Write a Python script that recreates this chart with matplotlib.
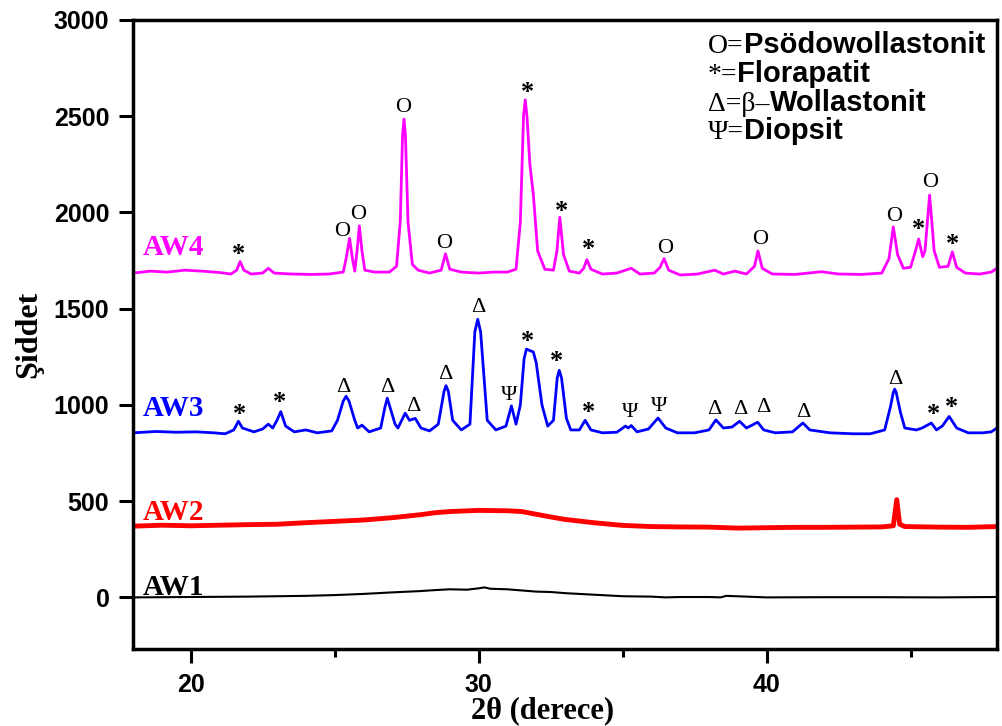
import matplotlib
matplotlib.use('Agg')
from matplotlib import pyplot as plt
from matplotlib.ticker import MultipleLocator

plt.rcParams['font.family'] = ['Liberation Sans', 'DejaVu Sans']
plt.rcParams['font.weight'] = 'bold'
SERIF = ['Liberation Serif', 'DejaVu Serif']

# XRD traces (2theta, intensity)
aw1_x = [18, 20, 22, 24, 25, 26, 27, 28, 28.5, 29, 29.6, 30, 30.2, 30.4, 31, 31.5, 32,
         32.5, 33, 33.5, 34, 34.5, 35, 36, 36.5, 37, 38, 38.4, 38.6, 40, 42, 44, 46, 48]
aw1_y = [0, 2, 4, 8, 12, 18, 26, 33, 38, 42, 40, 47, 52, 45, 42, 36, 30,
         28, 22, 18, 14, 10, 6, 4, 0, 2, 2, 0, 8, 0, 1, 1, 0, 2]

aw2_x = [18, 19, 20, 21, 22, 23, 24, 25, 26, 27, 28, 28.5, 29, 30, 31, 31.5, 32, 32.5,
         33, 34, 35, 36, 37, 38, 39, 40, 41, 42, 43, 44, 44.4, 44.52, 44.62, 44.8, 46, 47, 48]
aw2_y = [370, 375, 372, 375, 378, 380, 388, 395, 402, 414, 430, 440, 446, 452, 450, 446, 432, 418,
         405, 388, 374, 368, 366, 365, 360, 362, 364, 364, 365, 366, 372, 508, 380, 368, 365, 364, 368]

aw3_x = [18.0, 18.8, 19.5, 20.2, 20.8, 21.2, 21.5, 21.66, 21.8, 22.2, 22.5, 22.7, 22.85, 23.0,
         23.13, 23.3, 23.6, 24.0, 24.4, 24.9, 25.1, 25.3, 25.4, 25.5, 25.7, 25.8, 25.95, 26.2,
         26.6, 26.75, 26.83, 26.92, 27.1, 27.2, 27.45, 27.6, 27.8, 28.0, 28.3, 28.6, 28.8, 28.87,
         28.95, 29.1, 29.4, 29.7, 29.87, 29.97, 30.07, 30.3, 30.6, 30.95, 31.14, 31.3, 31.45,
         31.58, 31.66, 31.9, 32.0, 32.2, 32.4, 32.6, 32.73, 32.8, 32.88, 33.05, 33.2, 33.5, 33.7,
         33.9, 34.3, 34.8, 35.1, 35.2, 35.3, 35.5, 35.9, 36.23, 36.5, 36.9, 37.5, 38.0, 38.24,
         38.5, 38.8, 39.06, 39.3, 39.69, 39.9, 40.3, 40.9, 41.26, 41.5, 42.2, 43.0, 43.6, 44.1,
         44.3, 44.4, 44.45, 44.5, 44.65, 44.8, 45.2, 45.4, 45.72, 45.9, 46.1, 46.34, 46.6, 47.0,
         47.5, 47.8, 48.0]
aw3_y = [855, 862, 858, 860, 855, 850, 870, 915, 880, 860, 875, 900, 880, 920,
         965, 890, 860, 870, 855, 865, 920, 1020, 1045, 1020, 920, 880, 895, 860,
         880, 990, 1035, 990, 900, 880, 957, 920, 930, 880, 865, 900, 1070, 1100,
         1070, 920, 870, 900, 1380, 1445, 1380, 920, 870, 890, 995, 900, 1000,
         1240, 1290, 1275, 1220, 1000, 890, 920, 1140, 1180, 1140, 930, 870, 870, 920,
         870, 855, 858, 890, 880, 893, 860, 875, 932, 880, 855, 855, 870, 922,
         880, 885, 915, 880, 910, 870, 855, 860, 906, 870, 855, 850, 850, 870,
         990, 1065, 1082, 1065, 960, 880, 870, 880, 906, 870, 890, 940, 880, 855,
         855, 860, 880]

aw4_x = [18.0, 18.6, 19.2, 19.8, 20.4, 21.0, 21.4, 21.6, 21.72, 21.85, 22.1, 22.5, 22.7, 22.9,
         23.5, 24.2, 24.8, 25.3, 25.4, 25.52, 25.62, 25.7, 25.78, 25.86, 25.95, 26.05, 26.4,
         26.9, 27.15, 27.28, 27.36, 27.41, 27.46, 27.55, 27.7, 27.9, 28.3, 28.7, 28.85, 29.0,
         29.4, 30.0, 30.5, 31.0, 31.3, 31.45, 31.56, 31.62, 31.68, 31.78, 31.9, 32.05, 32.3,
         32.6, 32.72, 32.82, 32.95, 33.15, 33.5, 33.65, 33.76, 33.9, 34.3, 34.8, 35.3, 35.6,
         36.1, 36.3, 36.44, 36.6, 37.0, 37.6, 38.2, 38.5, 38.9, 39.3, 39.58, 39.7, 39.85, 40.2,
         41.0, 41.9, 42.5, 43.3, 44.0, 44.25, 44.4, 44.55, 44.75, 45.0, 45.15, 45.28, 45.42,
         45.5, 45.66, 45.82, 46.0, 46.3, 46.45, 46.6, 46.9, 47.4, 47.8, 48.0]
aw4_y = [1685, 1695, 1690, 1700, 1695, 1688, 1680, 1700, 1745, 1700, 1680, 1685, 1710, 1685,
         1680, 1678, 1680, 1690, 1760, 1865, 1760, 1695, 1800, 1930, 1800, 1700, 1690,
         1690, 1720, 1950, 2400, 2485, 2400, 1950, 1730, 1700, 1685, 1700, 1785, 1705,
         1690, 1685, 1690, 1690, 1705, 1950, 2500, 2585, 2500, 2250, 2095, 1800, 1705,
         1700, 1800, 1975, 1780, 1695, 1685, 1710, 1755, 1705, 1680, 1685, 1710, 1680,
         1685, 1715, 1760, 1700, 1675, 1680, 1700, 1680, 1695, 1680, 1720, 1800, 1710, 1680,
         1678, 1692, 1680, 1678, 1685, 1760, 1925, 1780, 1710, 1715, 1790, 1862, 1770,
         1800, 2090, 1800, 1715, 1720, 1795, 1715, 1685, 1680, 1690, 1710]

# sample names
names = ['AW1', 'AW2', 'AW3', 'AW4']
name_y = [12, 403, 943, 1779]
colors = ['black', 'red', 'blue', 'magenta']

# phase marks above the peaks
aw4_sym = ['*', 'O', 'O', 'O', 'O', '*', '*', '*', 'O', 'O', 'O', '*', 'O', '*']
aw4_sym_x = [21.67, 25.27, 25.83, 27.38, 28.8, 31.71, 32.89, 33.82, 36.48, 39.76, 44.43, 45.27, 45.68, 46.47]
aw4_sym_y = [1784, 1899, 1987, 2543, 1841, 2621, 2003, 1805, 1815, 1857, 1977, 1909, 2153, 1836]

aw3_sym = ['*', '*', 'Δ', 'Δ', 'Δ', 'Δ', 'Δ', 'Ψ', '*', '*', '*', 'Ψ', 'Ψ',
           'Δ', 'Δ', 'Δ', 'Δ', 'Δ', '*', '*']
aw3_sym_x = [21.71, 23.09, 25.31, 26.83, 27.73, 28.84, 29.98, 31.05, 31.71, 32.71, 33.82, 35.27, 36.27,
             38.18, 39.08, 39.87, 41.26, 44.48, 45.79, 46.41]
aw3_sym_y = [948, 1010, 1093, 1093, 990, 1156, 1504, 1047, 1332, 1223, 958, 958, 990,
             974, 974, 984, 958, 1130, 948, 984]

legend_sym = ['O=', '*=', 'Δ=β–', 'Ψ=']
legend_txt = ['Psödowollastonit', 'Florapatit', 'Wollastonit', 'Diopsit']

fig = plt.figure(figsize=(10.03, 7.26), dpi=100)
ax = fig.add_axes([0.1326, 0.1061, 0.8614, 0.8664])

ax.plot(aw1_x, aw1_y, color='black', lw=1.5)
ax.plot(aw2_x, aw2_y, color='red', lw=3.5)
ax.plot(aw3_x, aw3_y, color='blue', lw=2)
ax.plot(aw4_x, aw4_y, color='magenta', lw=2)

for n, yy, c in zip(names, name_y, colors):
    ax.text(18.34, yy, n, color=c, family=SERIF, fontweight='bold', fontsize=21, va='baseline')

for s, xx, yy in zip(aw4_sym + aw3_sym, aw4_sym_x + aw3_sym_x, aw4_sym_y + aw3_sym_y):
    fw = 'bold' if s == '*' else 'normal'
    fs = 19 if s == '*' else 16
    ax.text(xx, yy, s, family=SERIF, fontweight=fw, fontsize=fs, ha='center', va='center')

# legend block, top right
row_y = [0.947, 0.901, 0.856, 0.811]
for s, t, yy in zip(legend_sym, legend_txt, row_y):
    sym = ax.text(0.6655, yy, s, transform=ax.transAxes, family=SERIF, fontweight='normal',
                  fontsize=20, va='baseline')
    ax.annotate(t, xy=(1, 0), xycoords=sym, fontweight='bold', fontsize=21, va='bottom')

ax.set_xlim(18, 48)
ax.set_ylim(-268, 3000)
ax.xaxis.set_major_locator(MultipleLocator(10))
ax.xaxis.set_minor_locator(MultipleLocator(5))
ax.yaxis.set_major_locator(MultipleLocator(500))

ax.tick_params(axis='both', which='major', direction='out', length=10, width=2.2,
               labelsize=18, pad=7)
ax.tick_params(axis='x', which='minor', direction='out', length=5.5, width=2.2)
for sp in ax.spines.values():
    sp.set_linewidth(2.5)

ax.set_ylabel('Şiddet', family=SERIF, fontweight='bold', fontsize=23)
ax.yaxis.set_label_coords(-0.104, 0.5)
ax.set_xlabel('2θ (derece)', family=SERIF, fontweight='bold', fontsize=22)
ax.xaxis.set_label_coords(0.474, -0.075)

plt.savefig('out.png', dpi=100)
